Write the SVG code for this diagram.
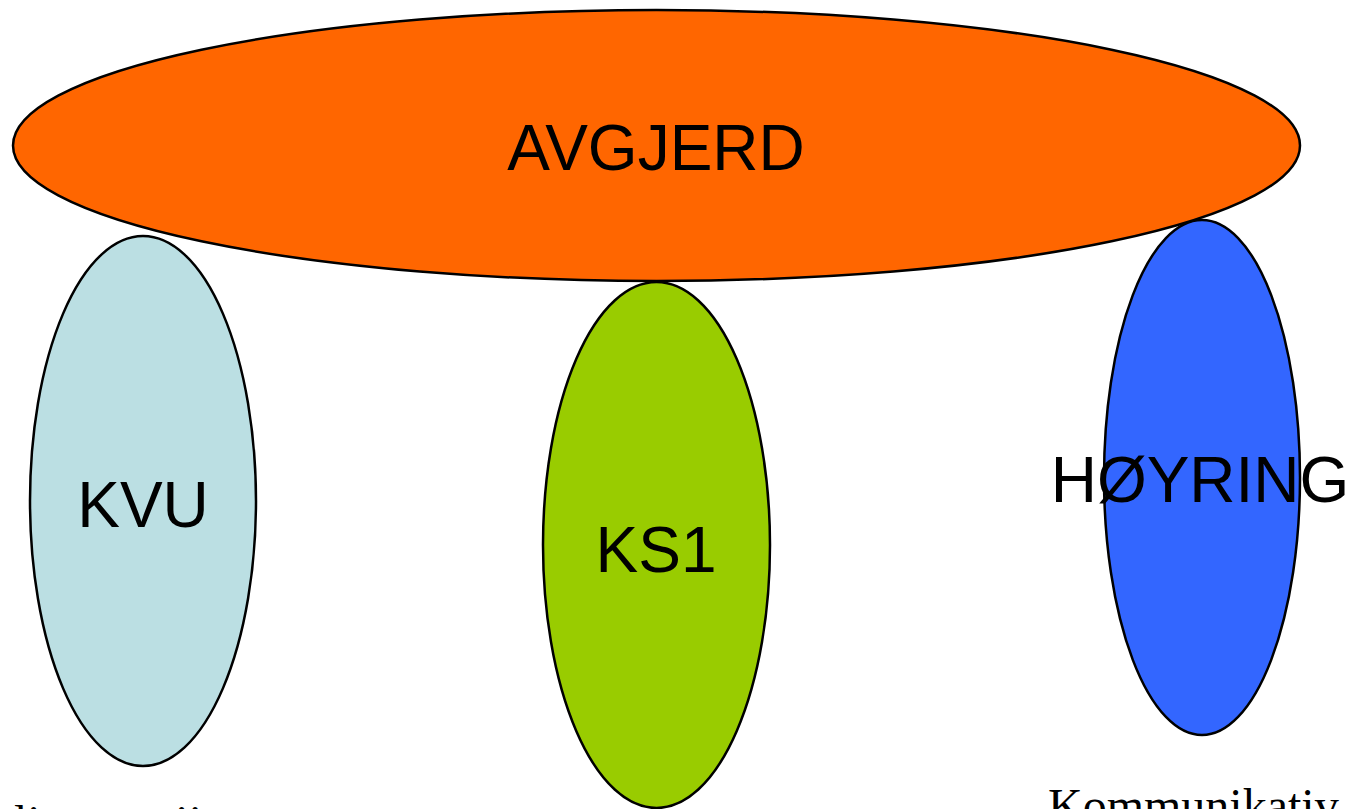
<svg xmlns="http://www.w3.org/2000/svg" width="1351" height="809" viewBox="0 0 1351 809">
<style>
.n{stroke:#000;stroke-width:2.5}
.t{font-family:"Liberation Sans",Arial,sans-serif;font-size:64px;fill:#000;text-anchor:middle}
.s{font-family:"Liberation Serif","Times New Roman",serif;font-size:48px;fill:#000}
</style>
<rect width="1351" height="809" fill="#fff"/>
<g id="connectors"></g>
<g id="kvu">
<ellipse class="n" cx="143" cy="501" rx="113" ry="265" fill="#BBDFE3"/>
<text class="t" x="143" y="527">KVU</text>
</g>
<g id="hoyring">
<ellipse class="n" cx="1202" cy="477.5" rx="98" ry="257.5" fill="#3366FF"/>
<text class="t" x="1200" y="502">HØYRING</text>
</g>
<g id="avgjerd">
<ellipse class="n" cx="656.5" cy="145.5" rx="643.5" ry="135.5" fill="#FF6600"/>
<text class="t" x="656" y="170">AVGJERD</text>
</g>
<g id="ks1">
<ellipse class="n" cx="656.5" cy="545" rx="113.5" ry="263" fill="#99CC00"/>
<text class="t" x="656" y="572">KS1</text>
</g>
<g id="labels">
<text class="s" x="-58" y="839">Faglig utgreiing</text>
<text class="s" x="1048" y="822">Kommunikativ</text>
</g>
</svg>
